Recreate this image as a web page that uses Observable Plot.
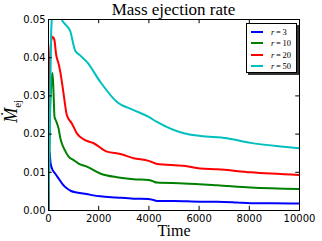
<!DOCTYPE html>
<html><head><meta charset="utf-8">
<script src="https://cdn.jsdelivr.net/npm/d3@7"></script>
<script src="https://cdn.jsdelivr.net/npm/@observablehq/plot@0.6"></script>
<style>
body{margin:0;background:#fff;}
#wrap{position:relative;width:322px;height:241px;overflow:hidden;}
#title{position:absolute;left:48px;width:251px;top:0px;text-align:center;font-family:"Liberation Serif",serif;font-size:17px;color:#000;}
#ylab{position:absolute;left:-8px;top:98px;transform:rotate(-90deg);font-family:"Liberation Serif",serif;font-size:18px;width:44px;text-align:center;line-height:20px;}
#ylab sub{font-size:11px;}
#legend{position:absolute;left:246px;top:23px;width:49px;height:48px;border:1px solid #000;background:#fff;box-shadow:2px 2px 0 #333;font-family:"Liberation Serif",serif;font-size:8.5px;}
.li{position:absolute;left:4px;height:11px;display:flex;align-items:center;}
.li span.sw{display:inline-block;width:12px;height:2px;margin-right:8px;}
</style></head>
<body><div id="wrap"><div id="chart"></div>
<div id="title">Mass ejection rate</div>
<div id="ylab"><i>Ṁ</i><sub>ej</sub></div>
<div id="legend"></div>
</div>
<script>
const seriesNames = ["r=3","r=10","r=20","r=50"];
const seriesColors = ["#0000ff","#008000","#ff0000","#00bfbf"];
const t3 = [0,40,80,150,250,400,550,730,900,1130,1500,2060,2700,3390,3990,4150,4320,5000,6050,6720,7500,8050,9000,10000];
const v3 = [0,0.0155,0.0125,0.0108,0.0098,0.0084,0.0070,0.0058,0.0051,0.0047,0.0043,0.0037,0.0034,0.0031,0.0030,0.0028,0.0025,0.0025,0.0023,0.0023,0.0021,0.0019,0.0019,0.0018];
const t10 = [0,60,120,160,200,240,300,400,470,530,650,800,1000,1200,1530,2060,2730,3390,3990,4150,4320,5390,6720,8050,10000];
const v10 = [0,0.025,0.034,0.036,0.031,0.0245,0.0235,0.0215,0.019,0.0176,0.0158,0.0141,0.0132,0.0123,0.0115,0.0097,0.0087,0.0082,0.0080,0.0077,0.0073,0.0071,0.0066,0.0060,0.0056];
const t20 = [0,30,60,100,150,200,240,300,330,400,470,600,730,930,1130,1460,1800,2330,2860,3390,3990,4320,5390,6050,6720,8050,10000];
const v20 = [0,0.03,0.040,0.044,0.0455,0.0452,0.0445,0.041,0.040,0.0385,0.0363,0.0306,0.025,0.0228,0.0202,0.0184,0.0176,0.0154,0.0148,0.0137,0.0130,0.0122,0.0117,0.0110,0.0108,0.0100,0.0093];
const t50 = [0,50,100,150,250,400,530,700,860,1060,1260,1530,2060,2730,3390,3990,4320,5390,6050,7110,8050,9375,10000];
const v50 = [0,0.02,0.045,0.052,0.056,0.054,0.050,0.0485,0.0471,0.0419,0.0406,0.0389,0.0337,0.0284,0.0263,0.0245,0.0232,0.0202,0.0195,0.0189,0.0177,0.0167,0.0163];
const xTicks = [0,2000,4000,6000,8000,10000];
const yTicks = [0,0.01,0.02,0.03,0.04,0.05];

const ts=[t3,t10,t20,t50], vs=[v3,v10,v20,v50];
const data = [];
ts.forEach((t,i)=>t.forEach((x,j)=>data.push({s:seriesNames[i],t:x,v:vs[i][j]})));

const tl = 0.0011, tlx = 150;
const plot = Plot.plot({
  width:322, height:241,
  marginLeft:48, marginRight:23, marginTop:19, marginBottom:31,
  style:{fontFamily:"DejaVu Sans, sans-serif", fontSize:"10px", color:"#000"},
  x:{domain:[0,10000], ticks:xTicks, tickSize:0, tickPadding:4, tickFormat:d3.format("d"), label:"Time", labelAnchor:"center", labelArrow:"none", labelOffset:25},
  y:{domain:[0,0.05], ticks:yTicks, tickSize:0, tickPadding:3, tickFormat:d3.format(".2f"), label:null},
  color:{domain:seriesNames, range:seriesColors},
  marks:[
    Plot.line(data,{x:"t",y:"v",stroke:"s",z:"s",strokeWidth:2,curve:"monotone-x",clip:true}),
    Plot.ruleX(xTicks,{x:d=>d,y1:0,y2:tl,stroke:"#000"}),
    Plot.ruleX(xTicks,{x:d=>d,y1:0.05-tl,y2:0.05,stroke:"#000"}),
    Plot.ruleY(yTicks,{y:d=>d,x1:0,x2:tlx,stroke:"#000"}),
    Plot.ruleY(yTicks,{y:d=>d,x1:10000-tlx,x2:10000,stroke:"#000"}),
    Plot.frame({stroke:"#000"})
  ]
});
document.getElementById("chart").appendChild(plot);
plot.querySelectorAll("g[aria-label='x-axis label'] text").forEach(t=>{t.style.fontFamily="Liberation Serif, serif";t.style.fontSize="16px";});

const lg=document.getElementById("legend");
seriesNames.forEach((n,i)=>{
  const d=document.createElement("div");d.className="li";d.style.top=(2+i*11.5)+"px";
  const [a,b]=n.split("=");
  d.innerHTML=`<span class="sw" style="background:${seriesColors[i]}"></span><i>${a}</i>&thinsp;=&thinsp;${b}`;
  lg.appendChild(d);
});
</script>
</body></html>
